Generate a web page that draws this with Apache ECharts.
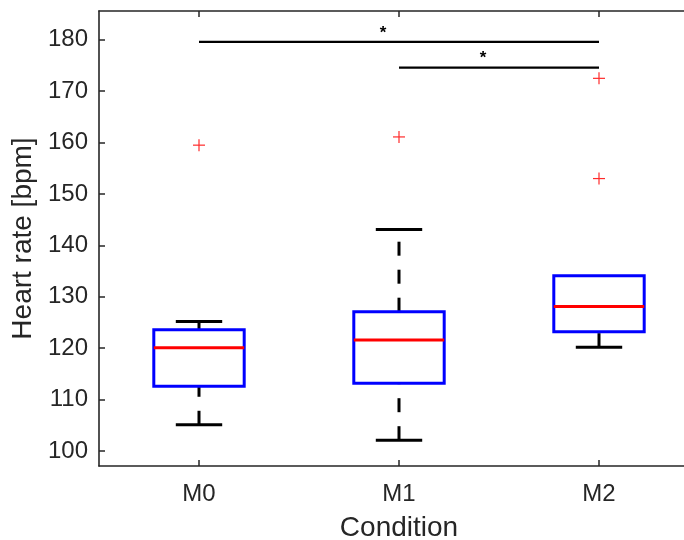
<!DOCTYPE html>
<html><head><meta charset="utf-8">
<script src="https://cdn.jsdelivr.net/npm/echarts@6/dist/echarts.min.js"></script>
<style>html,body{margin:0;padding:0;background:#fff}#chart{width:684px;height:540px}</style>
</head><body><div id="chart"></div>
<script>
// ---- data ----
const categories = ['M0', 'M1', 'M2'];
const lowerWhisker = [105.1, 102.1, 120.2];
const q1 = [112.6, 113.2, 123.2];
const median = [120.1, 121.6, 128.1];
const q3 = [123.6, 127.1, 134.1];
const upperWhisker = [125.2, 143.1, 134.1];
const outlierCategory = [0, 1, 2, 2];
const outlierValue = [159.5, 161.1, 172.5, 153.0];
const yTicks = [100, 110, 120, 130, 140, 150, 160, 170, 180];
const sigFrom = [0, 1];
const sigTo = [2, 2];
const sigLevel = [179.6, 174.6];
const sigLabel = ['*', '*'];

// ---- build ----
const FONT = "'Liberation Sans', Arial, Helvetica, sans-serif";
const TXT = '#262626';
const boxData = categories.map((c, i) => [i, lowerWhisker[i], q1[i], median[i], q3[i], upperWhisker[i]]);
const outData = outlierCategory.map((c, i) => [c, outlierValue[i]]);
const sigData = sigFrom.map((f, i) => [f, sigTo[i], sigLevel[i]]);

function boxItem(params, api) {
  const i = api.value(0);
  const cx = api.coord([i, api.value(3)])[0];
  const bw = api.size([1, 0])[0];
  const half = bw * 0.226, capHalf = bw * 0.116;
  const y = k => api.coord([i, api.value(k)])[1];
  const yLw = y(1), yQ1 = y(2), yMed = y(3), yQ3 = y(4), yUw = y(5);
  const whisk = { stroke: '#000', lineWidth: 3, lineDash: [14, 14], fill: null };
  const solid = { stroke: '#000', lineWidth: 3, fill: null };
  const ch = [];
  if (yUw < yQ3 - 0.5) {
    ch.push({ type: 'line', shape: { x1: cx, y1: yQ3, x2: cx, y2: yUw }, style: whisk });
    ch.push({ type: 'line', shape: { x1: cx - capHalf, y1: yUw, x2: cx + capHalf, y2: yUw }, style: solid });
  }
  if (yLw > yQ1 + 0.5) {
    ch.push({ type: 'line', shape: { x1: cx, y1: yLw, x2: cx, y2: yQ1 }, style: whisk });
    ch.push({ type: 'line', shape: { x1: cx - capHalf, y1: yLw, x2: cx + capHalf, y2: yLw }, style: solid });
  }
  ch.push({ type: 'rect', shape: { x: cx - half, y: yQ3, width: 2 * half, height: yQ1 - yQ3 },
            style: { fill: null, stroke: '#0000ff', lineWidth: 3 } });
  ch.push({ type: 'line', shape: { x1: cx - half, y1: yMed, x2: cx + half, y2: yMed },
            style: { stroke: '#ff0000', lineWidth: 3, fill: null } });
  return { type: 'group', children: ch };
}

function outlierItem(params, api) {
  const p = api.coord([api.value(0), api.value(1)]);
  const s = 6;
  const st = { stroke: '#ff2a2a', lineWidth: 1.2, fill: null };
  return { type: 'group', children: [
    { type: 'line', shape: { x1: p[0] - s, y1: p[1], x2: p[0] + s, y2: p[1] }, style: st },
    { type: 'line', shape: { x1: p[0], y1: p[1] - s, x2: p[0], y2: p[1] + s }, style: st }
  ] };
}

function sigItem(params, api) {
  const a = api.coord([api.value(0), api.value(2)]);
  const b = api.coord([api.value(1), api.value(2)]);
  const mid = (a[0] + b[0]) / 2;
  return { type: 'group', children: [
    { type: 'line', shape: { x1: a[0], y1: a[1], x2: b[0], y2: b[1] },
      style: { stroke: '#000', lineWidth: 2.2, fill: null } },
    { type: 'text', style: { text: sigLabel[params.dataIndex], x: mid - 16, y: a[1] - 9,
      align: 'center', verticalAlign: 'middle', fontSize: 17, fontWeight: 'bold', fontFamily: FONT, fill: '#000' } }
  ] };
}

const chart = echarts.init(document.getElementById('chart'), null, { renderer: 'canvas' });
const axisLine = { show: true, lineStyle: { color: TXT, width: 1.6 } };
const tickStyle = { color: TXT, width: 1.5 };
chart.setOption({
  animation: false,
  backgroundColor: '#fff',
  grid: { left: 99, top: 11, width: 600, height: 455, containLabel: false, outerBoundsMode: 'none' },
  xAxis: [
    { type: 'category', data: categories, position: 'bottom', axisLine: axisLine,
      axisTick: { show: true, inside: true, alignWithLabel: true, length: 6, lineStyle: tickStyle },
      axisLabel: { color: TXT, fontSize: 24, fontFamily: FONT, margin: 16 },
      splitLine: { show: false },
      name: 'Condition', nameLocation: 'middle', nameGap: 48,
      nameTextStyle: { color: TXT, fontSize: 28, fontFamily: FONT } },
    { type: 'category', data: categories, position: 'top', axisLine: axisLine,
      axisTick: { show: true, inside: true, alignWithLabel: true, length: 6, lineStyle: tickStyle },
      axisLabel: { show: false }, splitLine: { show: false } }
  ],
  yAxis: {
    type: 'value', min: 97.08, max: 185.6, axisLine: axisLine,
    axisTick: { show: true, inside: true, length: 6, lineStyle: tickStyle, customValues: yTicks },
    axisLabel: { color: TXT, fontSize: 24, fontFamily: FONT, margin: 11, customValues: yTicks },
    splitLine: { show: false },
    name: 'Heart rate [bpm]', nameLocation: 'middle', nameGap: 58, nameRotate: 90,
    nameTextStyle: { color: TXT, fontSize: 28, fontFamily: FONT }
  },
  series: [
    { type: 'custom', name: 'box', xAxisIndex: 0, yAxisIndex: 0, data: boxData, renderItem: boxItem,
      encode: { x: 0, y: [1, 2, 3, 4, 5] }, clip: false },
    { type: 'custom', name: 'outliers', xAxisIndex: 0, yAxisIndex: 0, data: outData, renderItem: outlierItem,
      encode: { x: 0, y: 1 }, clip: false },
    { type: 'custom', name: 'significance', xAxisIndex: 0, yAxisIndex: 0, data: sigData, renderItem: sigItem,
      encode: { x: [0, 1], y: 2 }, clip: false }
  ]
});
</script></body></html>
